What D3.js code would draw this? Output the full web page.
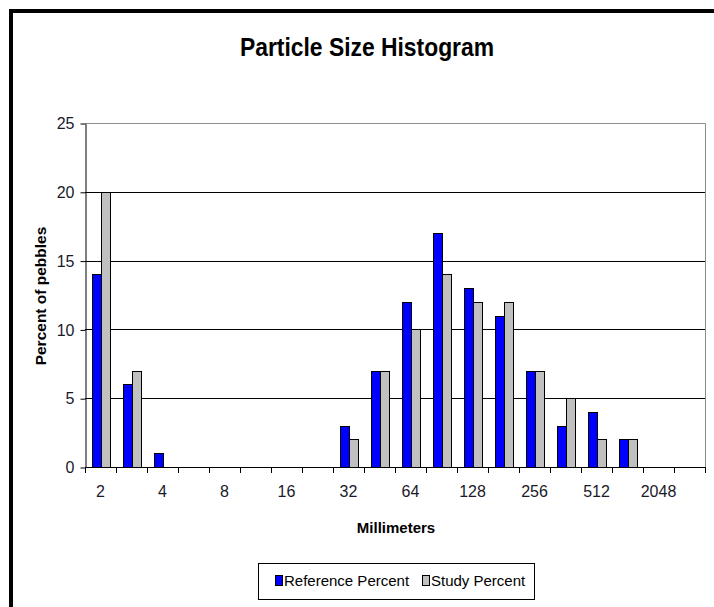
<!DOCTYPE html>
<html>
<head>
<meta charset="utf-8">
<script src="https://cdn.jsdelivr.net/npm/d3@7"></script>
<style>
  body { margin: 0; background: #fff; }
  svg { display: block; }
  text { font-family: "Liberation Sans Narrow", "Arial Narrow", "Liberation Sans", Arial, sans-serif; }
</style>
</head>
<body>
<svg id="chart" width="714" height="607"></svg>
<script>
/* Particle size histogram */

// Size classes (mm); only every other label is shown, like the original
var categories = ["2", "2.8", "4", "5.6", "8", "11", "16", "22.6", "32", "45",
                  "64", "90", "128", "180", "256", "362", "512", "1024", "2048", "4096"];
var seriesNames = ["Reference Percent", "Study Percent"];
var referencePercent = [14, 6, 1, 0, 0, 0, 0, 0, 3, 7, 12, 17, 13, 11, 7, 3, 4, 2, 0, 0];
var studyPercent = [20, 7, 0, 0, 0, 0, 0, 0, 2, 7, 10, 14, 12, 12, 7, 5, 2, 2, 0, 0];
var yTicks = [0, 5, 10, 15, 20, 25];

var colorRef = "#0000ff";
var colorStudy = "#c0c0c0";

var svg = d3.select("#chart");

// outer frame (cut off at right and bottom)
svg.append("path")
    .attr("d", "M11,720 L11,11 L720,11")
    .attr("fill", "none")
    .attr("stroke", "#000")
    .attr("stroke-width", 4);

var plotLeft = 85, plotRight = 705, plotTop = 123, plotBottom = 467;

var x0 = d3.scaleBand()
    .domain(categories)
    .range([plotLeft, plotRight])
    .padding(0);

var groupW = 18;
var x1 = d3.scaleBand()
    .domain(seriesNames)
    .range([(x0.bandwidth() - groupW) / 2, (x0.bandwidth() + groupW) / 2]);

var y = d3.scaleLinear()
    .domain([0, 25])
    .range([plotBottom, plotTop]);

// title (condensed to look like the narrow face of the original)
svg.append("text")
    .attr("transform", "translate(367,56) scale(0.88,1)")
    .attr("text-anchor", "middle")
    .attr("font-size", 26)
    .attr("font-weight", "bold")
    .attr("fill", "#000")
    .text("Particle Size Histogram");

// gridlines
svg.append("g")
    .selectAll("line")
    .data(yTicks.filter(function (d) { return d > 0 && d < 25; }))
    .enter()
    .append("line")
    .attr("x1", plotLeft)
    .attr("x2", plotRight)
    .attr("y1", function (d) { return Math.round(y(d)) + 0.5; })
    .attr("y2", function (d) { return Math.round(y(d)) + 0.5; })
    .attr("stroke", "#000")
    .attr("stroke-width", 1);

// plot area border top/right (gray)
svg.append("path")
    .attr("d", "M" + plotLeft + "," + (Math.round(y(25)) + 0.5) + " H" + (plotRight + 0.5) + " V" + plotBottom)
    .attr("fill", "none")
    .attr("stroke", "#8c8c8c")
    .attr("stroke-width", 1);

// bars
var rows = categories.map(function (c, i) {
    return { cat: c, values: [
        { name: seriesNames[0], value: referencePercent[i], color: colorRef },
        { name: seriesNames[1], value: studyPercent[i], color: colorStudy }
    ] };
});

var groups = svg.append("g")
    .selectAll("g")
    .data(rows)
    .enter()
    .append("g")
    .attr("transform", function (d) { return "translate(" + x0(d.cat) + ",0)"; });

groups.selectAll("rect")
    .data(function (d) { return d.values.filter(function (v) { return v.value > 0; }); })
    .enter()
    .append("rect")
    .attr("x", function (d) { return Math.round(x1(d.name)) + 0.5; })
    .attr("y", function (d) { return Math.round(y(d.value)) + 0.5; })
    .attr("width", Math.round(x1.bandwidth()))
    .attr("height", function (d) { return Math.round(y(0)) - Math.round(y(d.value)); })
    .attr("fill", function (d) { return d.color; })
    .attr("stroke", "#000")
    .attr("stroke-width", 1);

// y axis
var yAxis = svg.append("g")
    .attr("transform", "translate(" + (plotLeft + 0.5) + ",0.5)")
    .call(d3.axisLeft(y).tickValues(yTicks).tickSize(5).tickSizeOuter(0));
yAxis.select(".domain").attr("stroke", "#000");
yAxis.selectAll(".tick line").attr("stroke", "#000");
yAxis.selectAll(".tick text")
    .attr("x", -11)
    .attr("font-size", 16)
    .attr("fill", "#1a1a2a")
    .style("font-family", "'Liberation Sans Narrow', 'Arial Narrow', 'Liberation Sans', Arial, sans-serif");

// x axis: baseline, ticks at category boundaries, labels every other category
svg.append("line")
    .attr("x1", plotLeft)
    .attr("x2", plotRight + 1)
    .attr("y1", Math.round(y(0)) + 0.5)
    .attr("y2", Math.round(y(0)) + 0.5)
    .attr("stroke", "#000");

var bounds = categories.map(function (c) { return x0(c); }).concat([plotRight]);
svg.append("g")
    .selectAll("line")
    .data(bounds)
    .enter()
    .append("line")
    .attr("x1", function (d) { return Math.round(d) + 0.5; })
    .attr("x2", function (d) { return Math.round(d) + 0.5; })
    .attr("y1", Math.round(y(0)) + 0.5)
    .attr("y2", Math.round(y(0)) + 6)
    .attr("stroke", "#000");

svg.append("g")
    .selectAll("text")
    .data(categories.filter(function (c, i) { return i % 2 === 0; }))
    .enter()
    .append("text")
    .attr("x", function (d) { return x0(d) + x0.bandwidth() / 2; })
    .attr("y", 497)
    .attr("text-anchor", "middle")
    .attr("font-size", 16)
    .attr("fill", "#1a1a2a")
    .text(function (d) { return d; });

// axis titles
svg.append("text")
    .attr("x", 396)
    .attr("y", 533)
    .attr("text-anchor", "middle")
    .attr("font-size", 15)
    .attr("font-weight", "bold")
    .attr("fill", "#000")
    .text("Millimeters");

svg.append("text")
    .attr("transform", "translate(46,296) rotate(-90)")
    .attr("text-anchor", "middle")
    .attr("font-size", 15.5)
    .attr("font-weight", "bold")
    .attr("fill", "#000")
    .text("Percent of pebbles");

// legend
var legend = svg.append("g");
legend.append("rect")
    .attr("x", 258.5)
    .attr("y", 563.5)
    .attr("width", 276)
    .attr("height", 36)
    .attr("fill", "#fff")
    .attr("stroke", "#000");

var legendItems = [
    { name: seriesNames[0], color: colorRef, x: 275 },
    { name: seriesNames[1], color: colorStudy, x: 422 }
];
var li = legend.selectAll("g.item")
    .data(legendItems)
    .enter()
    .append("g")
    .attr("class", "item")
    .attr("transform", function (d) { return "translate(" + d.x + ",0)"; });
li.append("rect")
    .attr("x", 0.5)
    .attr("y", 575.5)
    .attr("width", 7)
    .attr("height", 10)
    .attr("fill", function (d) { return d.color; })
    .attr("stroke", "#000");
li.append("text")
    .attr("x", 9)
    .attr("y", 586)
    .attr("font-size", 15)
    .attr("fill", "#000")
    .text(function (d) { return d.name; });
</script>
</body>
</html>
